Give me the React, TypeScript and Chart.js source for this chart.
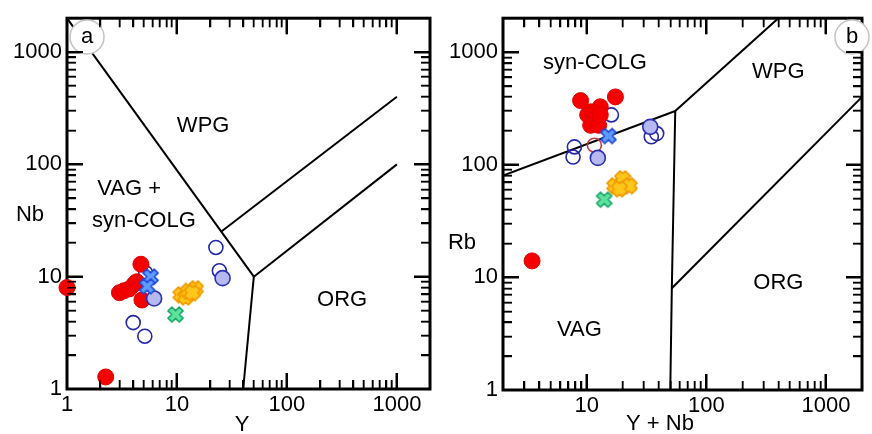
import React, { useEffect, useRef } from "react";
import { Chart, registerables } from "chart.js";

Chart.register(...registerables);

// ---------- Panel a: Nb vs Y ----------
const redA_Y = [1, 2.25, 3.0, 3.3, 3.7, 4.1, 4.3, 4.7, 4.8];
const redA_Nb = [8, 1.28, 7.2, 7.5, 7.8, 8.6, 9.0, 12.9, 6.2];
const blueOpenA_Y = [22.6, 24.3, 4.0, 5.1, 5.2];
const blueOpenA_Nb = [18.2, 11.3, 3.9, 2.95, 10.8];
const lightBlueA_Y = [6.2, 26];
const lightBlueA_Nb = [6.4, 9.7];
const blueCrossA_Y = [5.75, 5.35];
const blueCrossA_Nb = [10, 8.2];
const greenA_Y = [9.7];
const greenA_Nb = [4.6];
const orangeA_Y = [10.9, 12.0, 12.7, 14.7, 13.8];
const orangeA_Nb = [6.9, 6.6, 7.4, 7.8, 7.2];

// boundaries (Pearce et al. 1984) panel a
const bndA1 = [[1, 2000], [50, 10]];
const bndA2 = [[25, 25], [1000, 400]];
const bndA3 = [[50, 10], [1000, 100]];
const bndA4 = [[50, 10], [40, 1]];

// ---------- Panel b: Rb vs Y+Nb ----------
const redB_YNb = [3.5, 8.9, 17.4, 13.0, 10.8, 10.2, 11.5, 10.8, 12.6, 13.0];
const redB_Rb = [14, 371, 400, 327, 295, 277, 249, 224, 224, 277];
const redOpenB_YNb = [11.6];
const redOpenB_Rb = [149];
const blueOpenB_YNb = [16.1, 7.9, 7.7, 38.5, 34.7];
const blueOpenB_Rb = [277, 144, 117, 189, 177];
const lightBlueB_YNb = [34, 12.4];
const lightBlueB_Rb = [217, 115];
const blueCrossB_YNb = [15.2];
const blueCrossB_Rb = [180];
const greenB_YNb = [14.0];
const greenB_Rb = [49];
const orangeB_YNb = [17.2, 20, 22.7, 18.8];
const orangeB_Rb = [65, 75, 65, 61];

const bndB1 = [[2, 80], [55, 300]];
const bndB2 = [[55, 300], [400, 2000]];
const bndB3 = [[55, 300], [51.5, 8], [50, 1]];
const bndB4 = [[51.5, 8], [2000, 400]];

const decadeLabels = ["1", "10", "100", "1000"];
const tickDecades = [1, 10, 100, 1000];
const tickMantissas = [1, 2, 3, 4, 5, 6, 7, 8, 9];

const FONT = "'Liberation Sans', Arial, Helvetica, sans-serif";
const MAJ_LEN = 16;
const MIN_LEN = 9;

const pts = (xs: number[], ys: number[]) => xs.map((x, i) => ({ x, y: ys[i] }));
const seg = (arr: number[][]) => arr.map(([x, y]) => ({ x, y }));

function makeX(size: number, arm: number, fill: string, stroke: string, lw: number) {
  const c = document.createElement("canvas");
  c.width = size;
  c.height = size;
  const ctx = c.getContext("2d")!;
  const h = size / 2;
  const r = h - lw;
  const a = arm / 2;
  ctx.translate(h, h);
  ctx.rotate(Math.PI / 4);
  ctx.beginPath();
  ctx.moveTo(-a, -r);
  ctx.lineTo(a, -r);
  ctx.lineTo(a, -a);
  ctx.lineTo(r, -a);
  ctx.lineTo(r, a);
  ctx.lineTo(a, a);
  ctx.lineTo(a, r);
  ctx.lineTo(-a, r);
  ctx.lineTo(-a, a);
  ctx.lineTo(-r, a);
  ctx.lineTo(-r, -a);
  ctx.lineTo(-a, -a);
  ctx.closePath();
  ctx.fillStyle = fill;
  ctx.fill();
  ctx.lineJoin = "round";
  ctx.lineWidth = lw;
  ctx.strokeStyle = stroke;
  ctx.stroke();
  return c;
}

const isMajor = (v: number) => {
  const l = Math.log10(v);
  return Math.abs(l - Math.round(l)) < 1e-6;
};
const isIntMantissa = (v: number) => {
  const m = v / Math.pow(10, Math.floor(Math.log10(v) + 1e-9));
  return Math.abs(m - Math.round(m)) < 1e-6;
};

function makeFramePlugin(overlay: HTMLCanvasElement | null, cfg: any) {
  return {
    id: "frame",
    beforeDatasetsDraw(chart: any) {
      const { ctx, chartArea: a } = chart;
      ctx.save();
      ctx.strokeStyle = "#000";
      ctx.lineWidth = 3;
      ctx.strokeRect(a.left, a.top, a.right - a.left, a.bottom - a.top);
      ctx.restore();
    },
    afterDraw(chart: any) {
      const { ctx, chartArea: a, scales } = chart;
      const xs = scales.x;
      const ys = scales.y;
      // inward tick marks on an overlay canvas, positioned by the chart's scales
      if (overlay) {
        const o = overlay.getContext("2d")!;
        o.clearRect(0, 0, overlay.width, overlay.height);
        o.fillStyle = "#000";
        for (let i = 0; i < tickDecades.length; i++) {
          for (let j = 0; j < tickMantissas.length; j++) {
            const v = tickMantissas[j] * tickDecades[i];
            const maj = tickMantissas[j] === 1;
            const len = maj ? MAJ_LEN : MIN_LEN;
            const w = maj ? 2 : 1.5;
            if (v > cfg.xmin * 1.0001 && v < cfg.xmax * 0.9999) {
              const px = Math.round(xs.getPixelForValue(v) - w / 2);
              o.fillRect(px, a.bottom - len, w, len);
              o.fillRect(px, a.top, w, len);
            }
            if (v > cfg.ymin * 1.0001 && v < cfg.ymax * 0.9999) {
              const py = Math.round(ys.getPixelForValue(v) - w / 2);
              o.fillRect(a.left, py, len, w);
              o.fillRect(a.right - len, py, len, w);
            }
          }
        }
      }
      ctx.save();
      ctx.fillStyle = "#000";
      ctx.textAlign = "center";
      ctx.textBaseline = "middle";
      ctx.font = `22px ${FONT}`;
      cfg.regions.forEach((r: any) => {
        ctx.fillText(r.text, xs.getPixelForValue(r.x), ys.getPixelForValue(r.y));
      });
      cfg.titles.forEach((r: any) => {
        ctx.fillText(r.text, r.px, r.py);
      });
      const b = cfg.badge;
      ctx.beginPath();
      ctx.arc(b.px, b.py, 17, 0, Math.PI * 2);
      ctx.fillStyle = "#fff";
      ctx.fill();
      ctx.lineWidth = 1.5;
      ctx.strokeStyle = "#c4c4c4";
      ctx.stroke();
      ctx.fillStyle = "#000";
      ctx.fillText(b.text, b.px, b.py);
      ctx.restore();
    },
  };
}

// extra, label-less scales that draw the inward tick marks natively
function tickScale(axis: "x" | "y", position: string, min: number, max: number, major: boolean) {
  return {
    type: "logarithmic",
    axis,
    position,
    min,
    max,
    weight: -10,
    border: { display: false },
    grid: {
      display: true,
      drawOnChartArea: false,
      drawTicks: true,
      tickLength: -(major ? MAJ_LEN : MIN_LEN),
      tickColor: "#000",
      tickWidth: (c: any) => {
        const v = c && c.tick ? c.tick.value : NaN;
        if (!(v > min * 1.0001 && v < max * 0.9999)) return 0;
        if (!isIntMantissa(v)) return 0;
        const m = isMajor(v);
        if (major) return m ? 2 : 0;
        return m ? 0 : 1.5;
      },
    },
    ticks: { display: false },
    afterFit: (s: any) => {
      if (axis === "x") s.height = 0;
      else s.width = 0;
    },
  };
}

function buildChart(canvas: HTMLCanvasElement, overlay: HTMLCanvasElement | null, cfg: any) {
  const blueX = makeX(19, 5.5, "#5f9cff", "#1f48d8", 1.6);
  const greenX = makeX(19, 5.5, "#5ee39c", "#1aa86a", 1.6);
  const orangeX = makeX(18, 7.5, "#ffc61a", "#f29a00", 1.6);
  const g = cfg.groups;
  const datasets: any[] = [];
  cfg.lines.forEach((l: number[][]) => {
    datasets.push({
      data: seg(l),
      showLine: true,
      borderColor: "#000",
      borderWidth: 2,
      pointRadius: 0,
      fill: false,
      order: 100,
    });
  });
  const common = { clip: false };
  datasets.push({
    ...common,
    data: g.blueOpen, pointRadius: 7, borderColor: "#2226a8", borderWidth: 1.6,
    backgroundColor: "rgba(255,255,255,0)", order: 7,
  });
  if (g.redOpen) datasets.push({
    ...common,
    data: g.redOpen, pointRadius: 7, borderColor: "#c43a3a", borderWidth: 1.6,
    backgroundColor: "rgba(255,255,255,0)", order: 6,
  });
  datasets.push({
    ...common,
    data: g.red, pointRadius: 8, borderColor: "#e00000", borderWidth: 1,
    backgroundColor: "#f40000", order: 5,
  });
  datasets.push({
    ...common,
    data: g.lightBlue, pointRadius: 7.5, borderColor: "#2a30b4", borderWidth: 1.6,
    backgroundColor: "#b6b8f0", order: 4,
  });
  datasets.push({ ...common, data: g.orange, pointStyle: orangeX, pointRadius: 9, order: 3 });
  datasets.push({ ...common, data: g.green, pointStyle: greenX, pointRadius: 9, order: 2 });
  datasets.push({ ...common, data: g.blueCross, pointStyle: blueX, pointRadius: 9, order: 1 });

  const tickCb = (v: any) => {
    const n = Number(v);
    if (!isMajor(n)) return "";
    const idx = Math.round(Math.log10(n));
    return decadeLabels[idx] ?? "";
  };

  return new Chart(canvas, {
    type: "scatter",
    data: { datasets },
    plugins: [makeFramePlugin(overlay, cfg)],
    options: {
      responsive: false,
      animation: false,
      events: [],
      layout: { padding: { top: cfg.padTop, right: cfg.padRight, left: 0, bottom: 0 } },
      plugins: {
        legend: { display: false },
        tooltip: { enabled: false },
      },
      scales: {
        x: {
          type: "logarithmic",
          position: "bottom",
          min: cfg.xmin,
          max: cfg.xmax,
          border: { display: false },
          grid: { display: false, drawTicks: false },
          ticks: {
            autoSkip: false,
            maxRotation: 0,
            padding: 3,
            color: "#000",
            font: { family: FONT, size: 22 },
            callback: tickCb,
          },
          afterFit: (s: any) => { s.height = cfg.xHeight; },
        },
        y: {
          type: "logarithmic",
          position: "left",
          min: cfg.ymin,
          max: cfg.ymax,
          border: { display: false },
          grid: { display: false, drawTicks: false },
          ticks: {
            autoSkip: false,
            padding: 5,
            color: "#000",
            font: { family: FONT, size: 22 },
            callback: tickCb,
          },
          afterFit: (s: any) => { s.width = cfg.yWidth; },
        },
        xbMaj: tickScale("x", "bottom", cfg.xmin, cfg.xmax, true),
        xbMin: tickScale("x", "bottom", cfg.xmin, cfg.xmax, false),
        xtMaj: tickScale("x", "top", cfg.xmin, cfg.xmax, true),
        xtMin: tickScale("x", "top", cfg.xmin, cfg.xmax, false),
        ylMaj: tickScale("y", "left", cfg.ymin, cfg.ymax, true),
        ylMin: tickScale("y", "left", cfg.ymin, cfg.ymax, false),
        yrMaj: tickScale("y", "right", cfg.ymin, cfg.ymax, true),
        yrMin: tickScale("y", "right", cfg.ymin, cfg.ymax, false),
      },
    } as any,
  });
}

export default function App() {
  const refA = useRef<HTMLCanvasElement>(null);
  const refB = useRef<HTMLCanvasElement>(null);
  const ovA = useRef<HTMLCanvasElement>(null);
  const ovB = useRef<HTMLCanvasElement>(null);

  useEffect(() => {
    const cA = buildChart(refA.current!, ovA.current, {
      xmin: 1, xmax: 2000, ymin: 1, ymax: 2000,
      yWidth: 67, xHeight: 45, padTop: 15, padRight: 3,
      groups: {
        red: pts(redA_Y, redA_Nb),
        blueOpen: pts(blueOpenA_Y, blueOpenA_Nb),
        lightBlue: pts(lightBlueA_Y, lightBlueA_Nb),
        blueCross: pts(blueCrossA_Y, blueCrossA_Nb),
        green: pts(greenA_Y, greenA_Nb),
        orange: pts(orangeA_Y, orangeA_Nb),
      },
      lines: [bndA1, bndA2, bndA3, bndA4],
      regions: [
        { text: "WPG", x: 17.3, y: 220 },
        { text: "VAG +", x: 3.67, y: 61 },
        { text: "syn-COLG", x: 5.0, y: 31.6 },
        { text: "ORG", x: 318, y: 6.2 },
      ],
      titles: [
        { text: "Nb", px: 30, py: 215 },
        { text: "Y", px: 242, py: 425 },
      ],
      badge: { text: "a", px: 87, py: 37 },
    });
    const cB = buildChart(refB.current!, ovB.current, {
      xmin: 2, xmax: 2000, ymin: 1, ymax: 2000,
      yWidth: 63, xHeight: 44, padTop: 17, padRight: 2,
      groups: {
        red: pts(redB_YNb, redB_Rb),
        redOpen: pts(redOpenB_YNb, redOpenB_Rb),
        blueOpen: pts(blueOpenB_YNb, blueOpenB_Rb),
        lightBlue: pts(lightBlueB_YNb, lightBlueB_Rb),
        blueCross: pts(blueCrossB_YNb, blueCrossB_Rb),
        green: pts(greenB_YNb, greenB_Rb),
        orange: pts(orangeB_YNb, orangeB_Rb),
      },
      lines: [bndB1, bndB2, bndB3, bndB4],
      regions: [
        { text: "syn-COLG", x: 11.75, y: 800 },
        { text: "WPG", x: 400, y: 660 },
        { text: "ORG", x: 400, y: 9.0 },
        { text: "VAG", x: 8.7, y: 3.43 },
      ],
      titles: [
        { text: "Rb", px: 22, py: 243 },
        { text: "Y + Nb", px: 220, py: 424 },
      ],
      badge: { text: "b", px: 412, py: 37 },
    });
    return () => {
      cA.destroy();
      cB.destroy();
    };
  }, []);

  return (
    <div style={{ position: "fixed", left: 0, top: 0, width: 872, height: 434, background: "#fff" }}>
      <canvas ref={refA} width={440} height={434} style={{ position: "absolute", left: 0, top: 0 }} />
      <canvas ref={ovA} width={440} height={434} style={{ position: "absolute", left: 0, top: 0, pointerEvents: "none" }} />
      <canvas ref={refB} width={432} height={434} style={{ position: "absolute", left: 440, top: 0 }} />
      <canvas ref={ovB} width={432} height={434} style={{ position: "absolute", left: 440, top: 0, pointerEvents: "none" }} />
    </div>
  );
}
